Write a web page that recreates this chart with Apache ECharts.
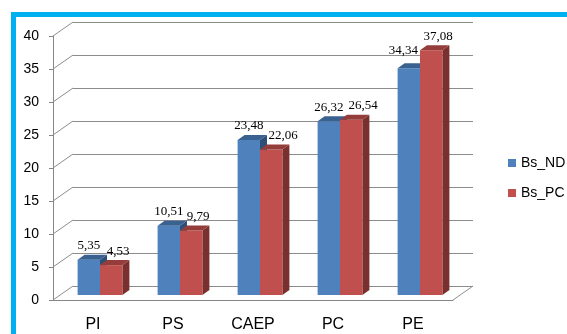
<!DOCTYPE html>
<html>
<head>
<meta charset="utf-8">
<script src="https://cdn.jsdelivr.net/npm/echarts@6/dist/echarts.min.js"></script>
<style>
  html, body { margin: 0; padding: 0; background: #fff; }
  #chart { width: 567px; height: 334px; }
</style>
</head>
<body>
<div id="chart"></div>
<script>
// data
const categories = ['PI', 'PS', 'CAEP', 'PC', 'PE']
const bsNd = [5.35, 10.51, 23.48, 26.32, 34.34]
const bsPc = [4.53, 9.79, 22.06, 26.54, 37.08]
const yTicks = [0, 5, 10, 15, 20, 25, 30, 35, 40]

// fake 3d depth
const WALL_DX = 20
const WALL_DY = -14
const BAR_DX = 7
const BAR_DY = -5

const GRID = { left: 53, top: 36, width: 400, height: 264 }
const LABEL_FONT = 13

function fmt(v) {
  return v.toFixed(2).replace('.', ',')
}

// rough text width for the value labels (serif digits are 0.5em, comma 0.25em)
function textW(s) {
  let w = 0
  for (const ch of s) w += ch === ',' ? LABEL_FONT * 0.25 : LABEL_FONT * 0.5
  return w
}

// geometry of one bar pair, plus the value labels nudged apart like excel does
function pairGeom(api, idx) {
  const band = api.size([1, 0])[0]
  const w = band * 0.28
  const vals = [bsNd[idx], bsPc[idx]]
  const bars = vals.map((v, slot) => {
    const top = api.coord([idx, v])
    const base = api.coord([idx, 0])
    const x0 = top[0] + BAR_DX - w + slot * w
    return { x0: x0, x1: x0 + w, yt: top[1] + BAR_DY, yb: base[1] + BAR_DY, v: v }
  })
  const labs = bars.map((b, slot) => {
    const t = fmt(b.v)
    return { text: t, w: textW(t), x: (b.x0 + b.x1) / 2 + (slot ? 7 : 0), y: b.yt - 14 }
  })
  const a = labs[0]
  const b = labs[1]
  const red = bars[1]
  // blue label would sit on the taller red bar: move it to the left of it
  if (a.y + 7 > red.yt + BAR_DY && a.x + a.w / 2 > red.x0) {
    a.x = red.x0 - 2 - a.w / 2
    a.y -= 4
  }
  // labels touching: push the red one right
  const vOverlap = Math.abs(a.y - b.y) < LABEL_FONT
  if (vOverlap && b.x - b.w / 2 < a.x + a.w / 2 + 3) {
    b.x = a.x + a.w / 2 + 5 + b.w / 2
  }
  return { bars: bars, labs: labs, w: w }
}

function barRenderer(slot, front, topCol, sideCol) {
  return function(params, api) {
    const idx = api.value(0)
    const g = pairGeom(api, idx)
    const bar = g.bars[slot]
    const lab = g.labs[slot]
    const x0 = bar.x0
    const x1 = bar.x1
    const yt = bar.yt
    const yb = bar.yb
    return {
      type: 'group',
      children: [
        {
          type: 'polygon',
          shape: { points: [[x1, yt], [x1 + BAR_DX, yt + BAR_DY], [x1 + BAR_DX, yb + BAR_DY], [x1, yb]] },
          style: { fill: sideCol }
        },
        {
          type: 'rect',
          shape: { x: x0, y: yt, width: x1 - x0, height: yb - yt },
          style: { fill: front }
        },
        {
          type: 'polygon',
          shape: { points: [[x0, yt], [x1, yt], [x1 + BAR_DX, yt + BAR_DY], [x0 + BAR_DX, yt + BAR_DY]] },
          style: { fill: topCol }
        },
        {
          type: 'text',
          z2: 10,
          style: {
            x: lab.x,
            y: lab.y,
            text: lab.text,
            fill: '#000',
            font: LABEL_FONT + 'px "Liberation Serif"',
            align: 'center',
            verticalAlign: 'middle'
          }
        }
      ]
    }
  }
}

const chart = echarts.init(document.getElementById('chart'))

chart.setOption({
  animation: false,
  grid: [
    { left: GRID.left, top: GRID.top, width: GRID.width, height: GRID.height },
    { left: GRID.left + WALL_DX, top: GRID.top + WALL_DY, width: GRID.width, height: GRID.height }
  ],
  legend: {
    orient: 'vertical',
    left: 503,
    top: 150,
    icon: 'rect',
    itemWidth: 8,
    itemHeight: 8,
    itemGap: 14,
    textStyle: { fontFamily: 'Liberation Sans', fontSize: 14, color: '#000', lineHeight: 16 },
    data: ['Bs_ND', 'Bs_PC']
  },
  xAxis: [
    {
      type: 'category',
      gridIndex: 0,
      data: categories,
      axisLine: { lineStyle: { color: '#868686' } },
      axisTick: { length: 4, lineStyle: { color: '#868686' } },
      axisLabel: { margin: 17, color: '#000', fontFamily: 'Liberation Sans', fontSize: 16 }
    },
    {
      type: 'category',
      gridIndex: 1,
      data: categories,
      show: false
    }
  ],
  yAxis: [
    {
      type: 'value',
      gridIndex: 0,
      min: 0,
      max: 40,
      interval: 5,
      splitLine: { show: false },
      axisLine: { show: true, lineStyle: { color: '#868686' } },
      axisTick: { show: true, length: 4, lineStyle: { color: '#868686' } },
      axisLabel: { margin: 14, color: '#000', fontFamily: 'Liberation Sans', fontSize: 14 }
    },
    {
      type: 'value',
      gridIndex: 1,
      min: 0,
      max: 40,
      interval: 5,
      axisLine: { show: false },
      axisTick: { show: false },
      axisLabel: { show: false },
      splitLine: { show: true, lineStyle: { color: '#8c8c8c', width: 1 } }
    }
  ],
  graphic: [
    { type: 'rect', left: 11, top: 12, shape: { width: 556, height: 5 }, style: { fill: '#00B0F0' } },
    { type: 'rect', left: 11, top: 12, shape: { width: 5, height: 322 }, style: { fill: '#00B0F0' } }
  ],
  series: [
    {
      // diagonals joining the value axis to the back wall
      type: 'custom',
      xAxisIndex: 0,
      yAxisIndex: 0,
      silent: true,
      clip: false,
      encode: { x: 0, y: 1 },
      data: yTicks.map(t => [0, t]),
      renderItem: function(params, api) {
        const p = api.coord([0, api.value(1)])
        const band = api.size([1, 0])[0]
        const x = p[0] - band / 2
        const lineStyle = { stroke: '#8c8c8c', lineWidth: 1 }
        const kids = [{
          type: 'line',
          shape: { x1: x, y1: p[1], x2: x + WALL_DX, y2: p[1] + WALL_DY },
          style: lineStyle
        }]
        if (api.value(1) === 0) {
          const xr = x + band * categories.length
          kids.push({
            type: 'line',
            shape: { x1: xr, y1: p[1], x2: xr + WALL_DX, y2: p[1] + WALL_DY },
            style: lineStyle
          })
        }
        return { type: 'group', children: kids }
      }
    },
    {
      name: 'Bs_ND',
      type: 'custom',
      xAxisIndex: 0,
      yAxisIndex: 0,
      clip: false,
      itemStyle: { color: '#4F81BD' },
      encode: { x: 0, y: 1 },
      data: bsNd.map((v, i) => [i, v]),
      renderItem: barRenderer(0, '#4F81BD', '#3A6291', '#2E4F77')
    },
    {
      name: 'Bs_PC',
      type: 'custom',
      xAxisIndex: 0,
      yAxisIndex: 0,
      clip: false,
      itemStyle: { color: '#C0504D' },
      encode: { x: 0, y: 1 },
      data: bsPc.map((v, i) => [i, v]),
      renderItem: barRenderer(1, '#C0504D', '#943D3A', '#7A302E')
    }
  ]
})
</script>
</body>
</html>
